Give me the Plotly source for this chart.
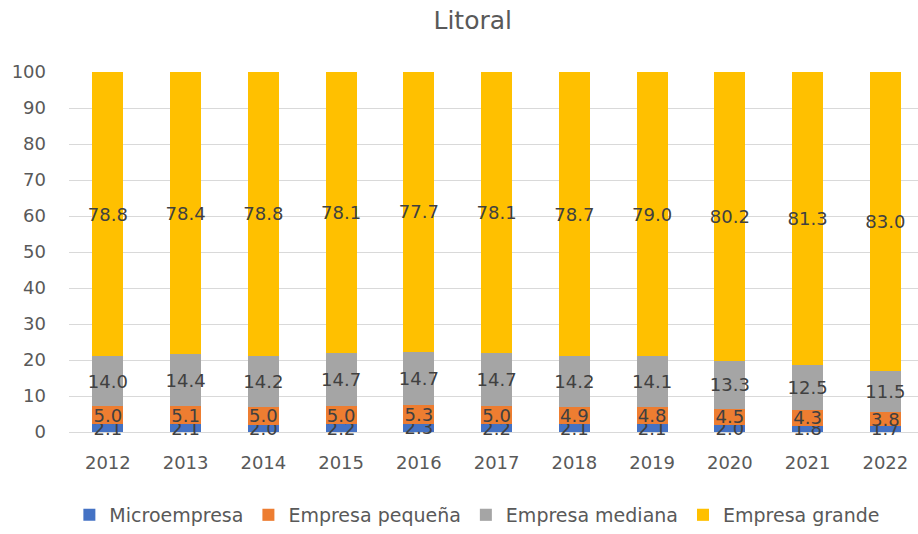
import plotly.graph_objects as go

years = ["2012", "2013", "2014", "2015", "2016", "2017", "2018", "2019", "2020", "2021", "2022"]
micro = [2.1, 2.1, 2.0, 2.2, 2.3, 2.2, 2.1, 2.1, 2.0, 1.8, 1.7]
pequena = [5.0, 5.1, 5.0, 5.0, 5.3, 5.0, 4.9, 4.8, 4.5, 4.3, 3.8]
mediana = [14.0, 14.4, 14.2, 14.7, 14.7, 14.7, 14.2, 14.1, 13.3, 12.5, 11.5]
grande = [78.8, 78.4, 78.8, 78.1, 77.7, 78.1, 78.7, 79.0, 80.2, 81.3, 83.0]

series = [
    ("Microempresa", micro, "#4472C4"),
    ("Empresa pequeña", pequena, "#ED7D31"),
    ("Empresa mediana", mediana, "#A5A5A5"),
    ("Empresa grande", grande, "#FFC000"),
]

FONT = "DejaVu Sans"

fig = go.Figure()
for name, vals, color in series:
    fig.add_trace(go.Bar(
        x=years,
        y=vals,
        name=name,
        marker=dict(color=color, line=dict(width=0)),
        text=[f"{v:.1f}" for v in vals],
        textposition="inside",
        insidetextanchor="middle",
        constraintext="none",
        textangle=0,
        cliponaxis=False,
        textfont=dict(family=FONT, size=18, color="#404040"),
        hoverinfo="skip",
    ))

fig.update_layout(
    barmode="stack",
    bargap=0.6,
    width=918,
    height=534,
    margin=dict(l=69, r=0, t=72, b=101),
    paper_bgcolor="white",
    plot_bgcolor="white",
    font=dict(family=FONT, color="#595959"),
    title=dict(
        text="Litoral",
        x=0.515, xref="container", xanchor="center",
        y=0.962, yref="container", yanchor="middle",
        font=dict(family=FONT, size=25, color="#595959"),
    ),
    legend=dict(
        orientation="h",
        x=0.481, xanchor="center",
        y=-0.231, yanchor="middle",
        font=dict(family=FONT, size=19, color="#595959"),
        traceorder="normal",
        itemclick=False,
    ),
    showlegend=True,
)

fig.update_xaxes(
    type="category",
    range=[-0.5, 10.42],
    showgrid=False,
    showline=False,
    ticks="",
    ticklabelstandoff=18,
    tickfont=dict(family=FONT, size=18, color="#595959"),
)

fig.update_yaxes(
    range=[0, 100],
    dtick=10,
    showgrid=True,
    gridcolor="#D9D9D9",
    gridwidth=1.3,
    zeroline=True,
    zerolinecolor="#D9D9D9",
    zerolinewidth=1.3,
    showline=False,
    ticks="",
    ticklabelstandoff=22,
    tickfont=dict(family=FONT, size=18, color="#595959"),
)

fig.write_html("out.html")
